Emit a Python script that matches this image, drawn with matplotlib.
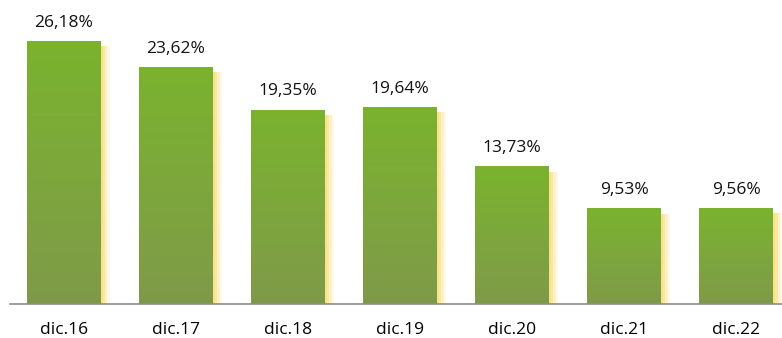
import numpy as np
import matplotlib
matplotlib.use("Agg")
import matplotlib.pyplot as plt
from matplotlib.colors import LinearSegmentedColormap

labels = ["dic.16", "dic.17", "dic.18", "dic.19", "dic.20", "dic.21", "dic.22"]
values = [26.18, 23.62, 19.35, 19.64, 13.73, 9.53, 9.56]
value_text = ["26,18%", "23,62%", "19,35%", "19,64%", "13,73%", "9,53%", "9,56%"]

plt.rcParams['font.family'] = ['Open Sans', 'DejaVu Sans']

fig = plt.figure(figsize=(7.82, 3.38), dpi=100)
ax = fig.add_axes([10 / 782, 34 / 338, 772 / 782, 304 / 338])

x = np.arange(len(labels))
width = 0.66

# soft yellow shadow on the right side of each bar
for dx, a in [(0.08, 0.15), (0.06, 0.25), (0.04, 0.4), (0.02, 0.5)]:
    ax.bar(x + dx, np.array(values) - 0.3, width, bottom=-0.25, color="#F9DC6B",
           alpha=a, linewidth=0, zorder=1)

bars = ax.bar(x, values, width, color="none", linewidth=0, zorder=2)

cmap = LinearSegmentedColormap.from_list("grn", [(0, "#7F9A49"), (0.55, "#7DA83B"), (1, "#7AB32E")])
grad = np.linspace(0, 1, 256).reshape(-1, 1)
for b in bars:
    x0, y0 = b.get_x(), b.get_y()
    w, h = b.get_width(), b.get_height()
    im = ax.imshow(grad, cmap=cmap, aspect="auto", origin="lower",
                   extent=[x0, x0 + w, y0, y0 + h], zorder=3)
    im.set_clip_path(b)

for xi, v, t in zip(x, values, value_text):
    ax.text(xi, v + 1.0, t, ha="center", va="bottom", fontsize=12.5, color="#111111")

ax.set_xlim(-0.48, len(labels) - 1 + 0.41)
ax.set_ylim(0, 30.25)
ax.set_xticks(x)
ax.set_xticklabels(labels, fontsize=12.5)
ax.tick_params(axis="x", length=0, pad=13)
ax.set_yticks([])
for s in ["top", "right", "left"]:
    ax.spines[s].set_visible(False)
ax.spines["bottom"].set_color("#8C8C8C")
ax.spines["bottom"].set_linewidth(1.2)
ax.spines["bottom"].set_zorder(5)

fig.savefig("out.png", dpi=100)
